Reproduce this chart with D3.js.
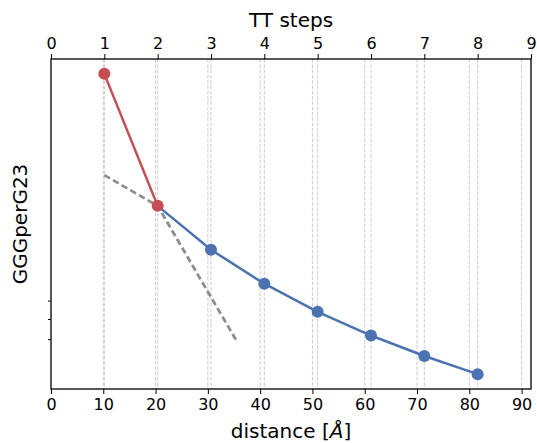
<!DOCTYPE html>
<html>
<head>
<meta charset="utf-8">
<script src="https://cdn.jsdelivr.net/npm/d3@7"></script>
<style>
  html, body { margin: 0; padding: 0; background: #ffffff; }
  text { font-family: "DejaVu Sans", sans-serif; fill: #000; }
</style>
</head>
<body>
<svg id="chart" width="537" height="443"></svg>
<script>
// TT step index for each measured point
const steps = [1, 2, 3, 4, 5, 6, 7, 8];
// GGGperG23 values (arbitrary units) for each step
const values = [95.5, 55.5, 42.2, 31.9, 23.4, 16.2, 10.0, 4.5];
// steps drawn in red (leading segment) and blue (remaining segment)
const redSteps = [1, 2];
const blueSteps = [2, 3, 4, 5, 6, 7, 8];
// dashed reference curve: step positions and values
const refSteps = [1, 2, 3.5];
const refValues = [64.8, 55.5, 14.0];
// distance per TT step in Å
const stepDistance = 10.2;
// tick labels
const distanceTicks = [0, 10, 20, 30, 40, 50, 60, 70, 80, 90];
const stepTicks = [0, 1, 2, 3, 4, 5, 6, 7, 8, 9];
const yMinorTicks = [15.1, 21.2, 26.8];

const W = 537, H = 443;
const margin = { top: 59, right: 6, bottom: 54, left: 51 };
const iw = W - margin.left - margin.right;
const ih = H - margin.top - margin.bottom;

const svg = d3.select("#chart");
const g = svg.append("g").attr("transform", `translate(${margin.left},${margin.top})`);

const maxStep = 9;
const xStep = d3.scaleLinear().domain([0, maxStep]).range([0, iw]);
const xDist = d3.scaleLinear().domain([0, maxStep * stepDistance]).range([0, iw]);
const y = d3.scaleLinear().domain([0, 100]).range([ih, 0]);

const valueOf = {};
steps.forEach((s, i) => valueOf[s] = values[i]);

// vertical grid lines for distance ticks and step ticks
const gridColor = "#cccccc";
g.append("g").selectAll("line").data(distanceTicks.filter(d => d > 0)).join("line")
  .attr("x1", d => xDist(d)).attr("x2", d => xDist(d))
  .attr("y1", 0).attr("y2", ih)
  .attr("stroke", gridColor).attr("stroke-width", 1).attr("stroke-dasharray", "3.7,1.6");
g.append("g").selectAll("line").data(stepTicks.filter(d => d > 0 && d < maxStep)).join("line")
  .attr("x1", d => xStep(d)).attr("x2", d => xStep(d))
  .attr("y1", 0).attr("y2", ih)
  .attr("stroke", gridColor).attr("stroke-width", 1).attr("stroke-dasharray", "3.7,1.6");

// dashed reference curve
const line = d3.line().x(d => xStep(d[0])).y(d => y(d[1]));
g.append("path")
  .datum(refSteps.map((s, i) => [s, refValues[i]]))
  .attr("d", line).attr("fill", "none")
  .attr("stroke", "#8c8c8c").attr("stroke-width", 2.8)
  .attr("stroke-dasharray", "6.5,3.5");

const blue = "#4c72b0", red = "#c44e52";

g.append("path")
  .datum(blueSteps.map(s => [s, valueOf[s]]))
  .attr("d", line).attr("fill", "none")
  .attr("stroke", blue).attr("stroke-width", 2.5);
g.append("path")
  .datum(redSteps.map(s => [s, valueOf[s]]))
  .attr("d", line).attr("fill", "none")
  .attr("stroke", red).attr("stroke-width", 2.5);

g.append("g").selectAll("circle").data(blueSteps.slice(1)).join("circle")
  .attr("cx", s => xStep(s)).attr("cy", s => y(valueOf[s]))
  .attr("r", 6).attr("fill", blue);
g.append("g").selectAll("circle").data(redSteps).join("circle")
  .attr("cx", s => xStep(s)).attr("cy", s => y(valueOf[s]))
  .attr("r", 6).attr("fill", red);

// axes
function styleAxis(sel) {
  sel.select(".domain").remove();
  sel.selectAll(".tick line").attr("stroke", "#000").attr("stroke-width", 1);
  sel.selectAll(".tick text").attr("font-size", "16px").attr("fill", "#000")
    .attr("font-family", "DejaVu Sans, sans-serif");
}

const bottomAxis = g.append("g").attr("transform", `translate(0,${ih})`)
  .call(d3.axisBottom(xDist).tickValues(distanceTicks).tickFormat(d3.format("d"))
    .tickSizeInner(5).tickSizeOuter(0).tickPadding(5));
styleAxis(bottomAxis);

const topAxis = g.append("g")
  .call(d3.axisTop(xStep).tickValues(stepTicks).tickFormat(d3.format("d"))
    .tickSizeInner(5).tickSizeOuter(0).tickPadding(5));
styleAxis(topAxis);

const leftAxis = g.append("g")
  .call(d3.axisLeft(y).tickValues(yMinorTicks).tickFormat("")
    .tickSizeInner(3).tickSizeOuter(0));
styleAxis(leftAxis);

// frame
g.append("rect").attr("x", 0).attr("y", 0).attr("width", iw).attr("height", ih)
  .attr("fill", "none").attr("stroke", "#000").attr("stroke-width", 1.3);

// axis titles
svg.append("text")
  .attr("x", margin.left + iw / 2).attr("y", 27)
  .attr("text-anchor", "middle").attr("font-size", "20px")
  .text("TT steps");

const xt = svg.append("text")
  .attr("x", margin.left + iw / 2).attr("y", 438)
  .attr("text-anchor", "middle").attr("font-size", "20px");
xt.append("tspan").text("distance [");
xt.append("tspan").attr("font-style", "italic").text("Å");
xt.append("tspan").text("]");

svg.append("text")
  .attr("transform", `translate(27,${margin.top + ih / 2}) rotate(-90)`)
  .attr("text-anchor", "middle").attr("font-size", "20px")
  .text("GGGperG23");
</script>
</body>
</html>
